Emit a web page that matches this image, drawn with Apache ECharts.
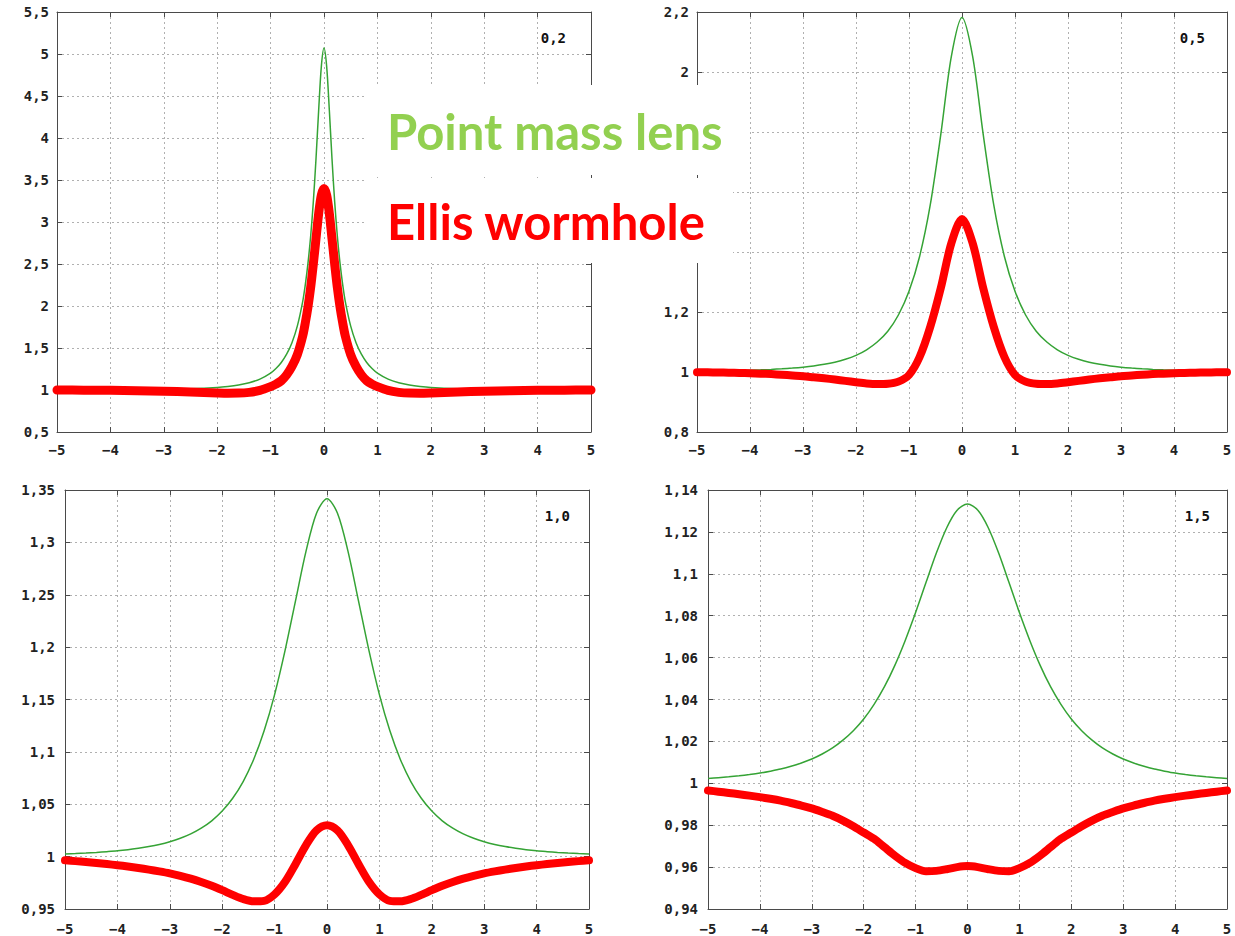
<!DOCTYPE html>
<html>
<head>
<meta charset="utf-8">
<style>
  html, body { margin: 0; padding: 0; background: #ffffff; }
  #chart { width: 1235px; height: 936px; }
</style>
<script src="https://cdn.jsdelivr.net/npm/echarts/dist/echarts.min.js"></script>
</head>
<body>
<div id="chart"></div>
<script>
// ---------- data ----------
const panelLabels = ['0,2', '0,5', '1,0', '1,5'];
const legendGreen = 'Point mass lens';
const legendRed = 'Ellis wormhole';

// panel 1 (0,2): denser sampling around the sharp peak
const xs1 = [-5,-4.5,-4,-3.5,-3,-2.5,-2,-1.8,-1.6,-1.4,-1.2,-1,-0.9,-0.8,-0.7,-0.6,-0.5,-0.4,-0.35,-0.3,-0.25,-0.2,-0.15,-0.1,-0.05,0,0.05,0.1,0.15,0.2,0.25,0.3,0.35,0.4,0.5,0.6,0.7,0.8,0.9,1,1.2,1.4,1.6,1.8,2,2.5,3,3.5,4,4.5,5];
const green1 = [1.002,1.002,1.003,1.005,1.008,1.015,1.03,1.042,1.06,1.087,1.13,1.202,1.256,1.328,1.426,1.563,1.76,2.05,2.255,2.51,2.83,3.24,3.75,4.33,4.85,5.07,4.85,4.33,3.75,3.24,2.83,2.51,2.255,2.05,1.76,1.563,1.426,1.328,1.256,1.202,1.13,1.087,1.06,1.042,1.03,1.015,1.008,1.005,1.003,1.002,1.002];
const red1 = [1.0,0.998,0.996,0.992,0.986,0.976,0.965,0.962,0.963,0.972,0.995,1.04,1.07,1.11,1.18,1.28,1.42,1.64,1.80,1.99,2.22,2.50,2.80,3.10,3.32,3.40,3.32,3.10,2.80,2.50,2.22,1.99,1.80,1.64,1.42,1.28,1.18,1.11,1.07,1.04,0.995,0.972,0.963,0.962,0.965,0.976,0.986,0.992,0.996,0.998,1.0];

// panels 2-4: x every 0.2
const xs = [-5,-4.8,-4.6,-4.4,-4.2,-4,-3.8,-3.6,-3.4,-3.2,-3,-2.8,-2.6,-2.4,-2.2,-2,-1.8,-1.6,-1.4,-1.2,-1,-0.8,-0.6,-0.4,-0.2,0,0.2,0.4,0.6,0.8,1,1.2,1.4,1.6,1.8,2,2.2,2.4,2.6,2.8,3,3.2,3.4,3.6,3.8,4,4.2,4.4,4.6,4.8,5];
const green2 = [1.0027,1.0031,1.0037,1.0043,1.0051,1.0061,1.0072,1.0087,1.0106,1.0131,1.0162,1.0202,1.0256,1.0327,1.0423,1.0555,1.074,1.100,1.136,1.190,1.269,1.385,1.556,1.792,2.053,2.182,2.053,1.792,1.556,1.385,1.269,1.190,1.136,1.100,1.074,1.0555,1.0423,1.0327,1.0256,1.0202,1.0162,1.0131,1.0106,1.0087,1.0072,1.0061,1.0051,1.0043,1.0037,1.0031,1.0027];
const red2 = [0.999,0.9988,0.9983,0.9977,0.997,0.996,0.9945,0.993,0.991,0.9885,0.986,0.9825,0.979,0.975,0.9705,0.966,0.962,0.96,0.961,0.968,0.99,1.05,1.15,1.28,1.43,1.51,1.43,1.28,1.15,1.05,0.99,0.968,0.961,0.96,0.962,0.966,0.9705,0.975,0.979,0.9825,0.986,0.9885,0.991,0.993,0.9945,0.996,0.997,0.9977,0.9983,0.9988,0.999];
const green3 = [1.0025,1.0029,1.0034,1.0040,1.0047,1.0055,1.0066,1.0080,1.0096,1.0116,1.0142,1.0175,1.0217,1.0272,1.0342,1.0435,1.0557,1.0717,1.0928,1.1201,1.1547,1.1969,1.2444,1.2916,1.3278,1.3416,1.3278,1.2916,1.2444,1.1969,1.1547,1.1201,1.0928,1.0717,1.0557,1.0435,1.0342,1.0272,1.0217,1.0175,1.0142,1.0116,1.0096,1.0080,1.0066,1.0055,1.0047,1.0040,1.0034,1.0029,1.0025];
const red3 = [0.9965,0.9957,0.9948,0.9939,0.9929,0.9918,0.9906,0.9892,0.9876,0.9859,0.984,0.9817,0.979,0.9758,0.9722,0.968,0.9635,0.9595,0.9573,0.9578,0.964,0.976,0.993,1.011,1.025,1.030,1.025,1.011,0.993,0.976,0.964,0.9578,0.9573,0.9595,0.9635,0.968,0.9722,0.9758,0.979,0.9817,0.984,0.9859,0.9876,0.9892,0.9906,0.9918,0.9929,0.9939,0.9948,0.9957,0.9965];
const green4 = [1.0023,1.0027,1.0031,1.0036,1.0042,1.0049,1.0058,1.0068,1.0081,1.0097,1.0116,1.0140,1.0169,1.0206,1.0251,1.0307,1.0377,1.0461,1.0563,1.0682,1.0815,1.0958,1.1099,1.1220,1.1303,1.1333,1.1303,1.1220,1.1099,1.0958,1.0815,1.0682,1.0563,1.0461,1.0377,1.0307,1.0251,1.0206,1.0169,1.0140,1.0116,1.0097,1.0081,1.0068,1.0058,1.0049,1.0042,1.0036,1.0031,1.0027,1.0023];
const red4 = [0.9966,0.996,0.9954,0.9948,0.9941,0.9934,0.9926,0.9917,0.9906,0.9894,0.988,0.9863,0.9845,0.9822,0.9795,0.9765,0.9735,0.9695,0.9655,0.962,0.9595,0.958,0.9582,0.959,0.960,0.9605,0.960,0.959,0.9582,0.958,0.9595,0.962,0.9655,0.9695,0.9735,0.9765,0.9795,0.9822,0.9845,0.9863,0.988,0.9894,0.9906,0.9917,0.9926,0.9934,0.9941,0.9948,0.9954,0.996,0.9966];

// y-axis ranges (min, max, interval) per panel
const yMin = [0.5, 0.8, 0.95, 0.94];
const yMax = [5.5, 2.2, 1.35, 1.14];
const yStep = [0.5, 0.2, 0.05, 0.02];
const xMin = -5, xMax = 5, xStep = 1;
// tick labels that are covered by the white legend boxes in the reference
const hiddenYTicks = [[], [1.4, 1.6, 1.8], [], []];

// ---------- layout / styles ----------
const grids = [
  { left: 57,  top: 12,  width: 534, height: 420 },
  { left: 697, top: 12,  width: 530, height: 420 },
  { left: 65,  top: 490, width: 524, height: 422 },
  { left: 708, top: 490, width: 519, height: 422 }
];
const panelData = [[xs1, green1, red1], [xs, green2, red2], [xs, green3, red3], [xs, green4, red4]];
const labelPos = [[566, 38], [1205, 38], [570, 516], [1210, 516]];
const redWidth = [9, 8, 8, 8];
const xLabelMargin = [11, 11, 13, 13];

const FONT = 'DejaVu Sans Mono';
const frameColor = '#4a4a4a';
const gridColor = '#b0b0b0';
const numFmt = v => {
  const s = String(+(+v).toFixed(3));
  return s.replace('.', ',').replace('-', '\u2212');
};

const xAxes = [], yAxes = [], series = [];
grids.forEach((g, i) => {
  const common = {
    gridIndex: i, type: 'value',
    axisLine: { show: true, onZero: false, lineStyle: { color: frameColor, width: 1 } },
    axisTick: { show: true, inside: true, length: 5, lineStyle: { color: frameColor } }
  };
  const hidden = hiddenYTicks[i];
  xAxes.push(Object.assign({}, common, {
    position: 'bottom', min: xMin, max: xMax, interval: xStep,
    axisLabel: { margin: xLabelMargin[i], fontFamily: FONT, fontSize: 14, fontWeight: 'bold', color: '#222', formatter: numFmt },
    splitLine: { show: true, lineStyle: { type: [2, 3], color: gridColor, width: 1 } }
  }));
  xAxes.push(Object.assign({}, common, {
    position: 'top', min: xMin, max: xMax, interval: xStep,
    axisLabel: { show: false }, splitLine: { show: false }
  }));
  yAxes.push(Object.assign({}, common, {
    position: 'left', min: yMin[i], max: yMax[i], interval: yStep[i],
    axisLabel: {
      margin: i >= 2 ? 10 : 8, fontFamily: FONT, fontSize: 14, fontWeight: 'bold', color: '#222',
      formatter: v => hidden.some(h => Math.abs(h - v) < 1e-6) ? '' : numFmt(v)
    },
    splitLine: { show: true, lineStyle: { type: [2, 3], color: gridColor, width: 1 } }
  }));
  yAxes.push(Object.assign({}, common, {
    position: 'right', min: yMin[i], max: yMax[i], interval: yStep[i],
    axisLabel: { show: false }, splitLine: { show: false }
  }));
  const [px, pg, pr] = panelData[i];
  series.push({
    type: 'line', name: legendGreen, xAxisIndex: 2 * i, yAxisIndex: 2 * i,
    data: px.map((x, k) => [x, pg[k]]),
    symbol: 'none', smooth: 0.3, z: 3,
    lineStyle: { color: '#35a335', width: 1.5 }
  });
  series.push({
    type: 'line', name: legendRed, xAxisIndex: 2 * i, yAxisIndex: 2 * i,
    data: px.map((x, k) => [x, pr[k]]),
    symbol: 'none', smooth: 0.3, z: 4, clip: false,
    lineStyle: { color: '#ff0000', width: redWidth[i], cap: 'round', join: 'round' }
  });
});

const graphic = [
  { type: 'rect', z: 100, shape: { x: 365, y: 85, width: 385, height: 90 }, style: { fill: '#ffffff' } },
  { type: 'rect', z: 100, shape: { x: 365, y: 178, width: 368, height: 85 }, style: { fill: '#ffffff' } },
  { type: 'text', z: 101, style: { x: 387, y: 131, text: legendGreen, fill: '#92d050', font: 'bold 49px Lato', align: 'left', verticalAlign: 'middle' } },
  { type: 'text', z: 101, style: { x: 387, y: 221, text: legendRed, fill: '#ff0000', font: 'bold 49px Lato', align: 'left', verticalAlign: 'middle' } }
];
panelLabels.forEach((t, i) => {
  graphic.push({ type: 'text', z: 101, style: { x: labelPos[i][0], y: labelPos[i][1], text: t, fill: '#111', font: 'bold 14px "DejaVu Sans Mono"', align: 'right', verticalAlign: 'middle' } });
});

const chart = echarts.init(document.getElementById('chart'), null, { renderer: 'svg', width: 1235, height: 936 });
chart.setOption({
  backgroundColor: '#ffffff',
  animation: false,
  grid: grids,
  xAxis: xAxes,
  yAxis: yAxes,
  series: series,
  graphic: graphic
});
</script>
</body>
</html>
